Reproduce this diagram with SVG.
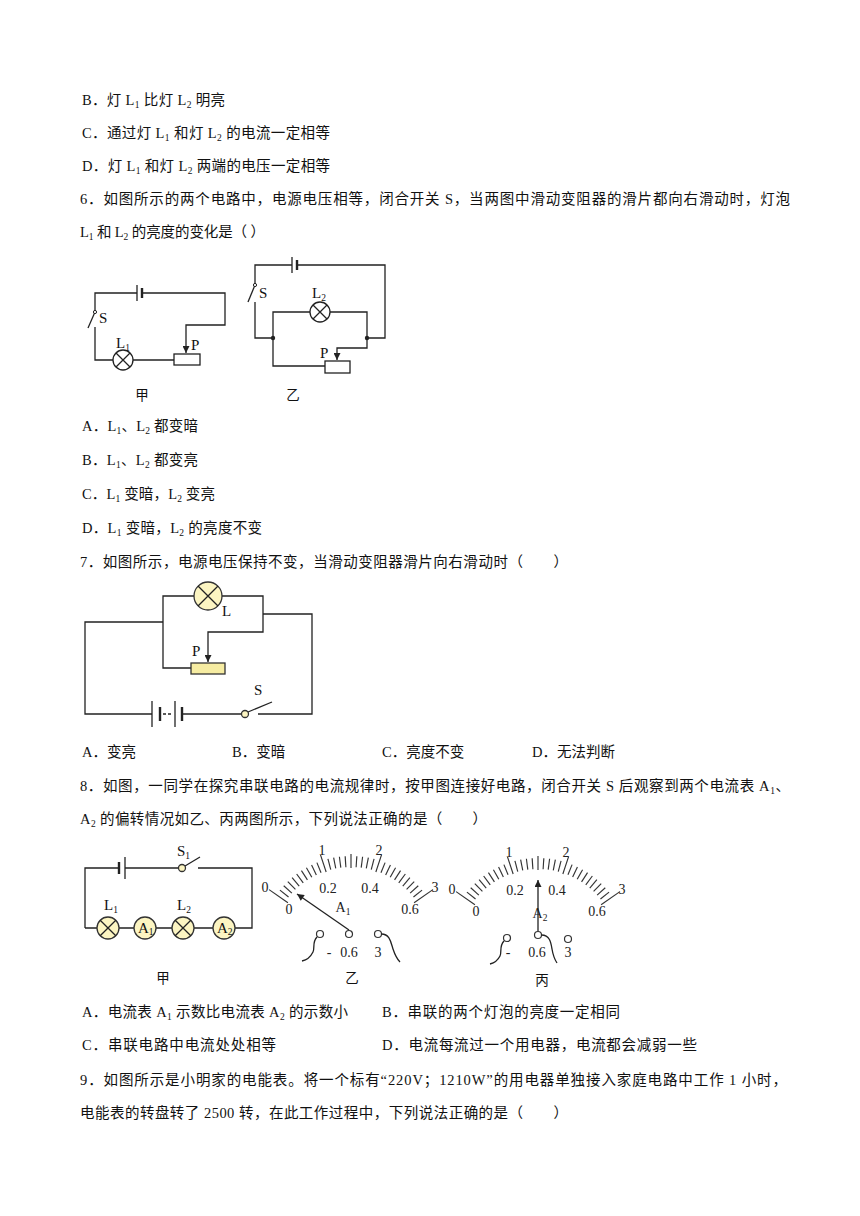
<svg xmlns="http://www.w3.org/2000/svg" xmlns:xlink="http://www.w3.org/1999/xlink" width="860" height="1216" viewBox="0 0 860 1216">
<style>
.t{font-family:"Liberation Serif","Noto Sans CJK SC",serif;font-size:14.5px;fill:#111}
.s{font-size:9.5px}
.lb{font-family:"Liberation Serif","Noto Sans CJK SC",serif;font-size:15px;fill:#111}
.cap{font-family:"Noto Sans CJK SC",sans-serif;font-size:13.5px;fill:#111;text-anchor:middle}
.num{font-family:"Liberation Serif",serif;font-size:14px;fill:#222;text-anchor:middle}
.w{fill:none;stroke:#222;stroke-width:1.3}
.pl{stroke:#222;stroke-width:1.3}
.pk{stroke:#222;stroke-width:2.4}
.lamp{fill:#fff;stroke:#222;stroke-width:1.3}
.ylamp{fill:#fcf5c2;stroke:#333;stroke-width:1.3}
.yrh{fill:#f6eca2;stroke:#333;stroke-width:1.3}
.tk{stroke:#333;stroke-width:1.15}
.term{fill:#fff;stroke:#333;stroke-width:1.2}
</style>
<defs>
<marker id="ah" viewBox="0 0 10 10" refX="10" refY="5" markerWidth="8" markerHeight="7" orient="auto" markerUnits="userSpaceOnUse">
<path d="M0,0 L10,5 L0,10 z" fill="#222"/>
</marker>
<g id="scale">
<line class="tk" x1="0" y1="-77" x2="0" y2="-100" transform="rotate(-55)"/>
<line class="tk" x1="0" y1="-80" x2="0" y2="-91" transform="rotate(-51.33)"/>
<line class="tk" x1="0" y1="-80" x2="0" y2="-91" transform="rotate(-47.67)"/>
<line class="tk" x1="0" y1="-80" x2="0" y2="-91" transform="rotate(-44)"/>
<line class="tk" x1="0" y1="-80" x2="0" y2="-91" transform="rotate(-40.33)"/>
<line class="tk" x1="0" y1="-80" x2="0" y2="-91" transform="rotate(-36.67)"/>
<line class="tk" x1="0" y1="-80" x2="0" y2="-91" transform="rotate(-33)"/>
<line class="tk" x1="0" y1="-80" x2="0" y2="-91" transform="rotate(-29.33)"/>
<line class="tk" x1="0" y1="-80" x2="0" y2="-91" transform="rotate(-25.67)"/>
<line class="tk" x1="0" y1="-80" x2="0" y2="-91" transform="rotate(-22)"/>
<line class="tk" x1="0" y1="-79" x2="0" y2="-97" transform="rotate(-18.33)"/>
<line class="tk" x1="0" y1="-80" x2="0" y2="-91" transform="rotate(-14.67)"/>
<line class="tk" x1="0" y1="-80" x2="0" y2="-91" transform="rotate(-11)"/>
<line class="tk" x1="0" y1="-80" x2="0" y2="-91" transform="rotate(-7.33)"/>
<line class="tk" x1="0" y1="-80" x2="0" y2="-91" transform="rotate(-3.67)"/>
<line class="tk" x1="0" y1="-79" x2="0" y2="-93"/>
<line class="tk" x1="0" y1="-80" x2="0" y2="-91" transform="rotate(3.67)"/>
<line class="tk" x1="0" y1="-80" x2="0" y2="-91" transform="rotate(7.33)"/>
<line class="tk" x1="0" y1="-80" x2="0" y2="-91" transform="rotate(11)"/>
<line class="tk" x1="0" y1="-80" x2="0" y2="-91" transform="rotate(14.67)"/>
<line class="tk" x1="0" y1="-79" x2="0" y2="-97" transform="rotate(18.33)"/>
<line class="tk" x1="0" y1="-80" x2="0" y2="-91" transform="rotate(22)"/>
<line class="tk" x1="0" y1="-80" x2="0" y2="-91" transform="rotate(25.67)"/>
<line class="tk" x1="0" y1="-80" x2="0" y2="-91" transform="rotate(29.33)"/>
<line class="tk" x1="0" y1="-80" x2="0" y2="-91" transform="rotate(33)"/>
<line class="tk" x1="0" y1="-80" x2="0" y2="-91" transform="rotate(36.67)"/>
<line class="tk" x1="0" y1="-80" x2="0" y2="-91" transform="rotate(40.33)"/>
<line class="tk" x1="0" y1="-80" x2="0" y2="-91" transform="rotate(44)"/>
<line class="tk" x1="0" y1="-80" x2="0" y2="-91" transform="rotate(47.67)"/>
<line class="tk" x1="0" y1="-80" x2="0" y2="-91" transform="rotate(51.33)"/>
<line class="tk" x1="0" y1="-77" x2="0" y2="-100" transform="rotate(55)"/>
<text class="num" x="-86" y="-55">0</text>
<text class="num" x="-29" y="-92">1</text>
<text class="num" x="28" y="-92">2</text>
<text class="num" x="84" y="-55">3</text>
<text class="num" x="-62" y="-33">0</text>
<text class="num" x="-23" y="-54">0.2</text>
<text class="num" x="19" y="-54">0.4</text>
<text class="num" x="59" y="-33">0.6</text>
</g>
</defs>
<rect width="860" height="1216" fill="#fff"/>

<g id="text">
<text class="t" x="82" y="105" textLength="143" lengthAdjust="spacing">B．灯 L<tspan class="s" dy="3">1</tspan><tspan dy="-3"> 比灯 L</tspan><tspan class="s" dy="3">2</tspan><tspan dy="-3"> 明亮</tspan></text>
<text class="t" x="82" y="138" textLength="248" lengthAdjust="spacing">C．通过灯 L<tspan class="s" dy="3">1</tspan><tspan dy="-3"> 和灯 L</tspan><tspan class="s" dy="3">2</tspan><tspan dy="-3"> 的电流一定相等</tspan></text>
<text class="t" x="82" y="171" textLength="248" lengthAdjust="spacing">D．灯 L<tspan class="s" dy="3">1</tspan><tspan dy="-3"> 和灯 L</tspan><tspan class="s" dy="3">2</tspan><tspan dy="-3"> 两端的电压一定相等</tspan></text>
<text class="t" x="80" y="204" textLength="710" lengthAdjust="spacing">6．如图所示的两个电路中，电源电压相等，闭合开关 S，当两图中滑动变阻器的滑片都向右滑动时，灯泡</text>
<text class="t" x="80" y="237" textLength="185" lengthAdjust="spacing">L<tspan class="s" dy="3">1</tspan><tspan dy="-3"> 和 L</tspan><tspan class="s" dy="3">2</tspan><tspan dy="-3"> 的亮度的变化是（ ）</tspan></text>
<text class="t" x="82" y="431" textLength="116" lengthAdjust="spacing">A．L<tspan class="s" dy="3">1</tspan><tspan dy="-3">、L</tspan><tspan class="s" dy="3">2</tspan><tspan dy="-3"> 都变暗</tspan></text>
<text class="t" x="82" y="465" textLength="116" lengthAdjust="spacing">B．L<tspan class="s" dy="3">1</tspan><tspan dy="-3">、L</tspan><tspan class="s" dy="3">2</tspan><tspan dy="-3"> 都变亮</tspan></text>
<text class="t" x="82" y="499" textLength="133" lengthAdjust="spacing">C．L<tspan class="s" dy="3">1</tspan><tspan dy="-3"> 变暗，L</tspan><tspan class="s" dy="3">2</tspan><tspan dy="-3"> 变亮</tspan></text>
<text class="t" x="82" y="533" textLength="180" lengthAdjust="spacing">D．L<tspan class="s" dy="3">1</tspan><tspan dy="-3"> 变暗，L</tspan><tspan class="s" dy="3">2</tspan><tspan dy="-3"> 的亮度不变</tspan></text>
<text class="t" x="80" y="567" textLength="488" lengthAdjust="spacing">7．如图所示，电源电压保持不变，当滑动变阻器滑片向右滑动时（　　）</text>
<text class="t" x="82" y="757">A．变亮</text>
<text class="t" x="232" y="757">B．变暗</text>
<text class="t" x="382" y="757">C．亮度不变</text>
<text class="t" x="532" y="757">D．无法判断</text>
<text class="t" x="80" y="791" textLength="710" lengthAdjust="spacing">8．如图，一同学在探究串联电路的电流规律时，按甲图连接好电路，闭合开关 S 后观察到两个电流表 A<tspan class="s" dy="3">1</tspan><tspan dy="-3">、</tspan></text>
<text class="t" x="80" y="824" textLength="407" lengthAdjust="spacing">A<tspan class="s" dy="3">2</tspan><tspan dy="-3"> 的偏转情况如乙、丙两图所示，下列说法正确的是（　　）</tspan></text>
<text class="t" x="82" y="1017" textLength="266" lengthAdjust="spacing">A．电流表 A<tspan class="s" dy="3">1</tspan><tspan dy="-3"> 示数比电流表 A</tspan><tspan class="s" dy="3">2</tspan><tspan dy="-3"> 的示数小</tspan></text>
<text class="t" x="382" y="1017" textLength="238" lengthAdjust="spacing">B．串联的两个灯泡的亮度一定相同</text>
<text class="t" x="82" y="1050" textLength="194" lengthAdjust="spacing">C．串联电路中电流处处相等</text>
<text class="t" x="382" y="1050" textLength="315" lengthAdjust="spacing">D．电流每流过一个用电器，电流都会减弱一些</text>
<text class="t" x="80" y="1085" textLength="707" lengthAdjust="spacing">9．如图所示是小明家的电能表。将一个标有“220V；1210W”的用电器单独接入家庭电路中工作 1 小时，</text>
<text class="t" x="80" y="1118" textLength="488" lengthAdjust="spacing">电能表的转盘转了 2500 转，在此工作过程中，下列说法正确的是（　　）</text>
</g>

<!-- Q6 circuit 甲 -->
<g id="q6-jia">
<path class="w" d="M95,312 V293 H137"/>
<line class="pl" x1="137" y1="285" x2="137" y2="301"/>
<line class="pk" x1="142" y1="288" x2="142" y2="298"/>
<path class="w" d="M142,293 H225 V325 H186 V353" marker-end="url(#ah)"/>
<line class="pl" x1="95" y1="312" x2="88" y2="328"/>
<circle cx="95" cy="312" r="1.6" fill="#fff" stroke="#222" stroke-width="1"/>
<path class="w" d="M95,327 V360 H113"/>
<path class="w" d="M133,360 H174"/>
<g id="lampL1"><circle class="lamp" cx="123" cy="360" r="10"/><path class="w" d="M116,353 L130,367 M130,353 L116,367"/></g>
<rect class="lamp" x="174" y="354" width="26" height="11"/>
<text class="lb" x="99" y="323">S</text>
<text class="lb" x="116" y="348">L<tspan class="s" dy="3">1</tspan></text>
<text class="lb" x="191" y="350">P</text>
<text class="cap" x="142" y="400">甲</text>
</g>

<!-- Q6 circuit 乙 -->
<g id="q6-yi">
<path class="w" d="M255,285 V265 H292"/>
<line class="pl" x1="292" y1="257" x2="292" y2="273"/>
<line class="pk" x1="297" y1="260" x2="297" y2="270"/>
<path class="w" d="M297,265 H385 V338 H367"/>
<line class="pl" x1="255" y1="285" x2="248" y2="302"/>
<circle cx="255" cy="285" r="1.6" fill="#fff" stroke="#222" stroke-width="1"/>
<path class="w" d="M255,302 V338 H273"/>
<path class="w" d="M273,338 V312 H310 M330,312 H367 V338"/>
<g id="lampL2"><circle class="lamp" cx="320" cy="312" r="10"/><path class="w" d="M313,305 L327,319 M327,305 L313,319"/></g>
<path class="w" d="M273,338 V366 H325"/>
<rect class="lamp" x="325" y="361" width="25" height="12"/>
<path class="w" d="M367,338 V348 H337 V360" marker-end="url(#ah)"/>
<circle cx="273" cy="338" r="2.2" fill="#222"/>
<circle cx="367" cy="338" r="2.2" fill="#222"/>
<text class="lb" x="259" y="298">S</text>
<text class="lb" x="312" y="298">L<tspan class="s" dy="3">2</tspan></text>
<text class="lb" x="320" y="358">P</text>
<text class="cap" x="293" y="400">乙</text>
</g>

<!-- Q7 circuit -->
<g id="q7">
<path class="w" d="M163,622 V596 H194 M222,596 H263 V632 H208 V662" marker-end="url(#ah)"/>
<path class="w" d="M163,622 V668 H191"/>
<g id="lampL"><circle class="ylamp" cx="208" cy="596" r="14"/><path class="w" d="M198,586 L218,606 M218,586 L198,606"/></g>
<rect class="yrh" x="191" y="663" width="34" height="11"/>
<path class="w" d="M163,622 H85 V714 H152"/>
<line class="pl" x1="152" y1="701" x2="152" y2="727"/>
<line class="pk" x1="160" y1="707" x2="160" y2="721"/>
<line x1="163" y1="714" x2="173" y2="714" stroke="#222" stroke-width="1.3" stroke-dasharray="3,2"/>
<line class="pl" x1="175" y1="701" x2="175" y2="727"/>
<line class="pk" x1="182" y1="707" x2="182" y2="721"/>
<path class="w" d="M182,714 H241.5"/>
<line class="pl" x1="248" y1="712" x2="272" y2="702"/>
<circle class="ylamp" cx="245" cy="714" r="3.5"/>
<path class="w" d="M258,714 H312 V614 H263"/>
<text class="lb" x="222" y="616" font-size="16">L</text>
<text class="lb" x="192" y="656" font-size="16">P</text>
<text class="lb" x="254" y="695" font-size="16">S</text>
</g>

<!-- Q8 circuit 甲 -->
<g id="q8-jia">
<path class="w" d="M85,928 V868 H119"/>
<line class="pk" x1="119" y1="862" x2="119" y2="874"/>
<line class="pl" x1="125" y1="857" x2="125" y2="879"/>
<path class="w" d="M125,868 H178.5"/>
<line class="pl" x1="185" y1="866" x2="200" y2="857"/>
<circle class="ylamp" cx="182" cy="868" r="3.5"/>
<path class="w" d="M198,868 H252 V928 H235"/>
<path class="w" d="M85,928 H97 M119,928 H134 M156,928 H172 M194,928 H213"/>
<g id="q8L1"><circle class="ylamp" cx="108" cy="928" r="11"/><path class="w" d="M100.2,920.2 L115.8,935.8 M115.8,920.2 L100.2,935.8"/></g>
<g id="q8A1"><circle class="ylamp" cx="145" cy="928" r="11"/><text class="lb" x="138" y="933" font-size="13">A<tspan class="s" font-size="8.5" dy="2">1</tspan></text></g>
<g id="q8L2"><circle class="ylamp" cx="183" cy="928" r="11"/><path class="w" d="M175.2,920.2 L190.8,935.8 M190.8,920.2 L175.2,935.8"/></g>
<g id="q8A2"><circle class="ylamp" cx="224" cy="928" r="11"/><text class="lb" x="217" y="933" font-size="13">A<tspan class="s" font-size="8.5" dy="2">2</tspan></text></g>
<text class="lb" x="104" y="910">L<tspan class="s" dy="3">1</tspan></text>
<text class="lb" x="177" y="910">L<tspan class="s" dy="3">2</tspan></text>
<text class="lb" x="177" y="856">S<tspan class="s" dy="3">1</tspan></text>
<text class="cap" x="163" y="983">甲</text>
</g>

<!-- Q8 meter 乙 -->
<g id="meter-yi" transform="translate(351,947)">
<use xlink:href="#scale"/>
<line class="w" x1="-2" y1="-17" x2="-54" y2="-53" marker-end="url(#ah)"/>
<text class="num" x="-8" y="-35">A<tspan class="s" dy="3">1</tspan></text>
<circle class="term" cx="-31" cy="-13" r="3.5"/>
<circle class="term" cx="-2" cy="-13" r="3.5"/>
<circle class="term" cx="27" cy="-13" r="3.5"/>
<path class="w" d="M-34,-10 C-39,-5 -36,1 -38,5 S-44,13 -49,14"/>
<path class="w" d="M30.5,-13 C39,-13 40,-4 42,2 S46,12 49,15"/>
<text class="num" x="-22" y="10">-</text>
<text class="num" x="-2" y="10">0.6</text>
<text class="num" x="27" y="10">3</text>
<text class="cap" x="1" y="36">乙</text>
</g>

<!-- Q8 meter 丙 -->
<g id="meter-bing" transform="translate(538,949)">
<use xlink:href="#scale"/>
<line class="w" x1="0" y1="-17.5" x2="0" y2="-69" marker-end="url(#ah)"/>
<text class="num" x="2" y="-31">A<tspan class="s" dy="3">2</tspan></text>
<circle class="term" cx="-31" cy="-11" r="3.5"/>
<circle class="term" cx="0" cy="-14" r="3.5"/>
<circle class="term" cx="30" cy="-10" r="3.5"/>
<path class="w" d="M-34,-8 C-39,-3 -36,3 -38,7 S-44,14 -48,15"/>
<path class="w" d="M3.5,-14 C12,-14 13,-6 14,0 S17,11 19,14"/>
<text class="num" x="-30" y="8">-</text>
<text class="num" x="-1" y="8">0.6</text>
<text class="num" x="30" y="8">3</text>
<text class="cap" x="4" y="36">丙</text>
</g>
</svg>
